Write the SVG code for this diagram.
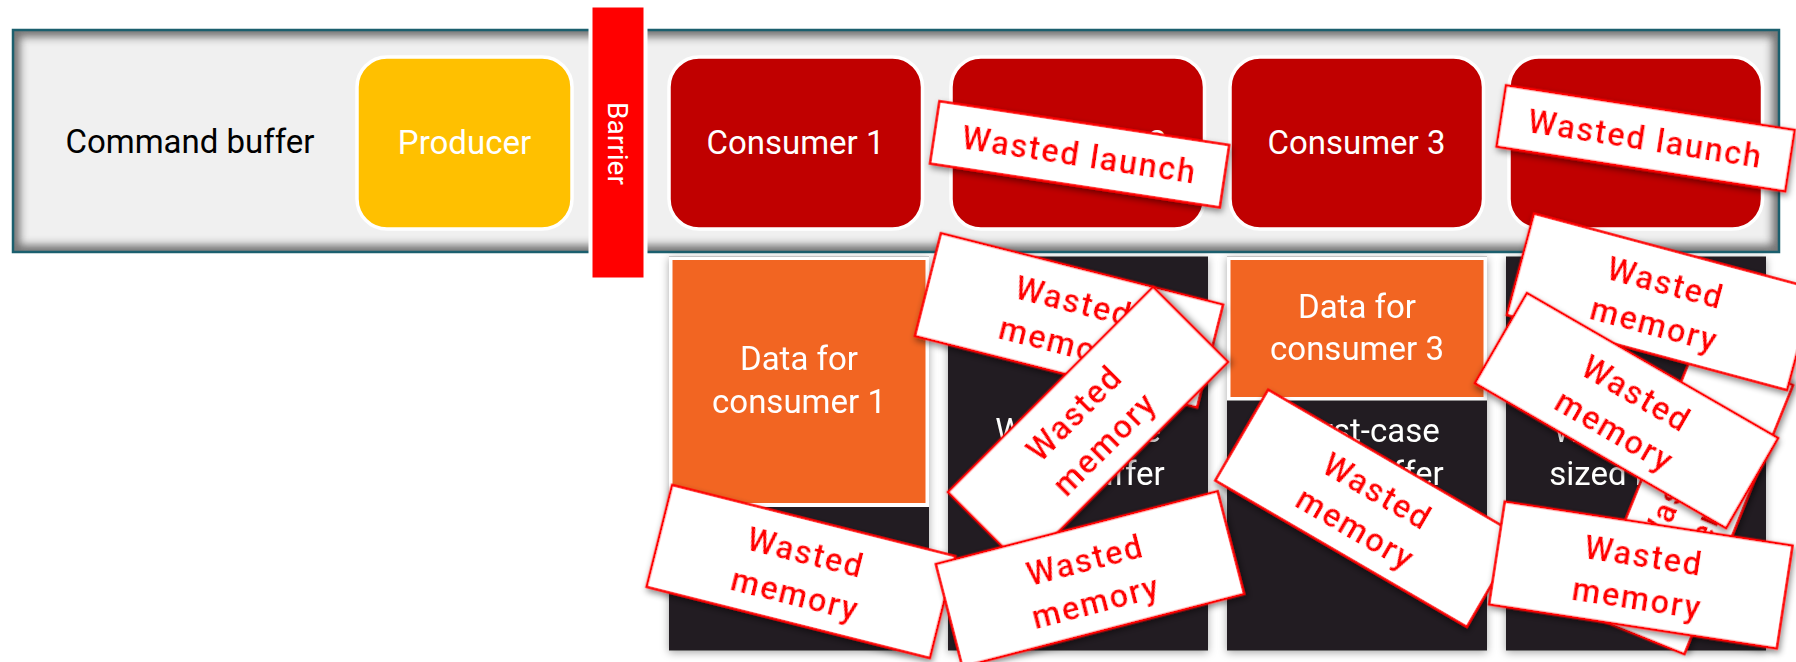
<svg xmlns="http://www.w3.org/2000/svg" width="1796" height="662" viewBox="0 0 1796 662">
<defs>
<style>
.t{font-family:Roboto,"Liberation Sans",sans-serif;font-size:33px;text-anchor:middle}
.w{fill:#ffffff}
.k{fill:#000000}
.lbl rect{fill:#ffffff;stroke:#ff0000;stroke-width:2.5}
.lbl text{font-family:Roboto,"Liberation Sans",sans-serif;font-weight:500;font-size:32.5px;fill:#ff0000;text-anchor:middle;letter-spacing:1.8px}
.cons{fill:#c00000;stroke:#ffffff;stroke-width:3.5}
.col{fill:#231f20}
.org{fill:#f26522}
</style>
<filter id="ls" x="-30%" y="-60%" width="160%" height="220%"><feDropShadow dx="2" dy="3" stdDeviation="3" flood-color="#000" flood-opacity="0.45"/></filter>
<filter id="cs" x="-10%" y="-10%" width="120%" height="120%"><feDropShadow dx="0" dy="2" stdDeviation="4" flood-color="#000" flood-opacity="0.35"/></filter>
<filter id="blur" x="-5%" y="-20%" width="110%" height="140%"><feGaussianBlur stdDeviation="4"/></filter>
<clipPath id="cbclip"><rect x="14" y="31" width="1764" height="220"/></clipPath>
</defs>
<rect width="1796" height="662" fill="#ffffff"/>

<g id="command-buffer">
  <rect x="13" y="30" width="1766" height="222" fill="#f0f0f0"/>
  <rect x="13" y="30" width="1766" height="222" fill="none" stroke="#555555" stroke-width="14" clip-path="url(#cbclip)" filter="url(#blur)" opacity="0.8"/>
  <rect x="13" y="30" width="1766" height="222" fill="none" stroke="#1b5f6e" stroke-width="2.5"/>
  <text class="t k" x="190" y="153">Command buffer</text>
</g>

<g id="producer">
  <rect x="357" y="57" width="215" height="172" rx="30" fill="#ffc000" stroke="#ffffff" stroke-width="3.5"/>
  <text class="t w" x="464.5" y="154">Producer</text>
</g>

<g id="barrier">
  <rect x="590.5" y="5.5" width="55" height="274" fill="#ff0000" stroke="#ffffff" stroke-width="4"/>
  <text class="w" font-family="Roboto, 'Liberation Sans', sans-serif" font-size="28" text-anchor="middle" transform="translate(608,143.5) rotate(90)">Barrier</text>
</g>

<g id="consumer-1">
  <rect class="cons" x="669" y="57" width="253.5" height="172" rx="30"/>
  <text class="t w" x="795.5" y="154">Consumer 1</text>
</g>
<g id="consumer-2">
  <rect class="cons" x="951" y="57" width="253.5" height="172" rx="30"/>
  <text class="t w" x="1077.5" y="154">Consumer 2</text>
</g>
<g id="consumer-3">
  <rect class="cons" x="1230" y="57" width="253.5" height="172" rx="30"/>
  <text class="t w" x="1356.5" y="154">Consumer 3</text>
</g>
<g id="consumer-4">
  <rect class="cons" x="1509" y="57" width="253.5" height="172" rx="30"/>
</g>

<g id="buffer-1" filter="url(#cs)">
  <rect class="col" x="669" y="256.5" width="260" height="394"/>
  <rect x="669" y="256.5" width="260" height="250.5" fill="#ffffff"/>
  <rect class="org" x="672.5" y="260" width="253" height="243"/>
  <text class="t w" x="799" y="370">Data for</text>
  <text class="t w" x="799" y="413">consumer 1</text>
</g>
<g id="buffer-2" filter="url(#cs)">
  <rect class="col" x="948" y="256.5" width="260" height="394"/>
  <text class="t w" x="1078" y="442">Worst-case</text>
  <text class="t w" x="1078" y="485">sized buffer</text>
</g>
<g id="buffer-3" filter="url(#cs)">
  <rect class="col" x="1227" y="256.5" width="260" height="394"/>
  <rect x="1227" y="256.5" width="260" height="144" fill="#ffffff"/>
  <rect class="org" x="1230.5" y="260" width="253" height="137"/>
  <text class="t w" x="1357" y="317.5">Data for</text>
  <text class="t w" x="1357" y="360">consumer 3</text>
  <text class="t w" x="1357" y="442">Worst-case</text>
  <text class="t w" x="1357" y="485">sized buffer</text>
</g>
<g id="buffer-4" filter="url(#cs)">
  <rect class="col" x="1506" y="256.5" width="260" height="394"/>
  <text class="t w" x="1636" y="442">Worst-case</text>
  <text class="t w" x="1636" y="485">sized buffer</text>
</g>

<g id="connectors"></g>

<g id="wasted-launch-2" class="lbl" filter="url(#ls)" transform="translate(1079.6,154.3) rotate(8.6)">
  <rect x="-146.5" y="-31.5" width="293" height="63"/>
  <text x="0" y="11.5">Wasted launch</text>
</g>
<g id="wasted-launch-4" class="lbl" filter="url(#ls)" transform="translate(1645.6,138.3) rotate(8.8)">
  <rect x="-146" y="-31" width="292" height="62"/>
  <text x="0" y="11.5">Wasted launch</text>
</g>

<g id="wasted-memory-i" class="lbl" filter="url(#ls)" transform="translate(801,571.5) rotate(14.1)">
  <rect x="-146" y="-52.5" width="292" height="105"/>
  <text x="0" y="-8">Wasted</text><text x="0" y="35">memory</text>
</g>
<g id="wasted-memory-c" class="lbl" filter="url(#ls)" transform="translate(1069,320.3) rotate(14.2)">
  <rect x="-145.5" y="-53" width="291" height="106"/>
  <text x="0" y="-8">Wasted</text><text x="0" y="35">memory</text>
</g>
<g id="wasted-memory-d" class="lbl" filter="url(#ls)" transform="translate(1088,427) rotate(-45)">
  <rect x="-145" y="-53" width="290" height="106"/>
  <text x="0" y="-8">Wasted</text><text x="0" y="35">memory</text>
</g>
<g id="wasted-memory-j" class="lbl" filter="url(#ls)" transform="translate(1090,579) rotate(-14.5)">
  <rect x="-145.5" y="-53" width="291" height="106"/>
  <text x="0" y="-8">Wasted</text><text x="0" y="35">memory</text>
</g>
<g id="wasted-memory-e" class="lbl" filter="url(#ls)" transform="translate(1367.5,508.3) rotate(30.2)">
  <rect x="-145.5" y="-52.5" width="291" height="105"/>
  <text x="0" y="-8">Wasted</text><text x="0" y="35">memory</text>
</g>
<g id="wasted-memory-k" class="lbl" filter="url(#ls)" transform="translate(1690,500) rotate(-68)">
  <rect x="-145" y="-52.5" width="290" height="105"/>
  <text x="0" y="-8">Wasted</text><text x="0" y="35">memory</text>
</g>
<g id="wasted-memory-f" class="lbl" filter="url(#ls)" transform="translate(1660.5,301.8) rotate(15)">
  <rect x="-145" y="-52.5" width="290" height="105"/>
  <text x="0" y="-8">Wasted</text><text x="0" y="35">memory</text>
</g>
<g id="wasted-memory-h" class="lbl" filter="url(#ls)" transform="translate(1626.5,410.6) rotate(30)">
  <rect x="-145" y="-52" width="290" height="104"/>
  <text x="0" y="-8">Wasted</text><text x="0" y="35">memory</text>
</g>
<g id="wasted-memory-g" class="lbl" filter="url(#ls)" transform="translate(1640.8,575) rotate(8.7)">
  <rect x="-145.5" y="-52" width="291" height="104"/>
  <text x="0" y="-8">Wasted</text><text x="0" y="35">memory</text>
</g>
</svg>
